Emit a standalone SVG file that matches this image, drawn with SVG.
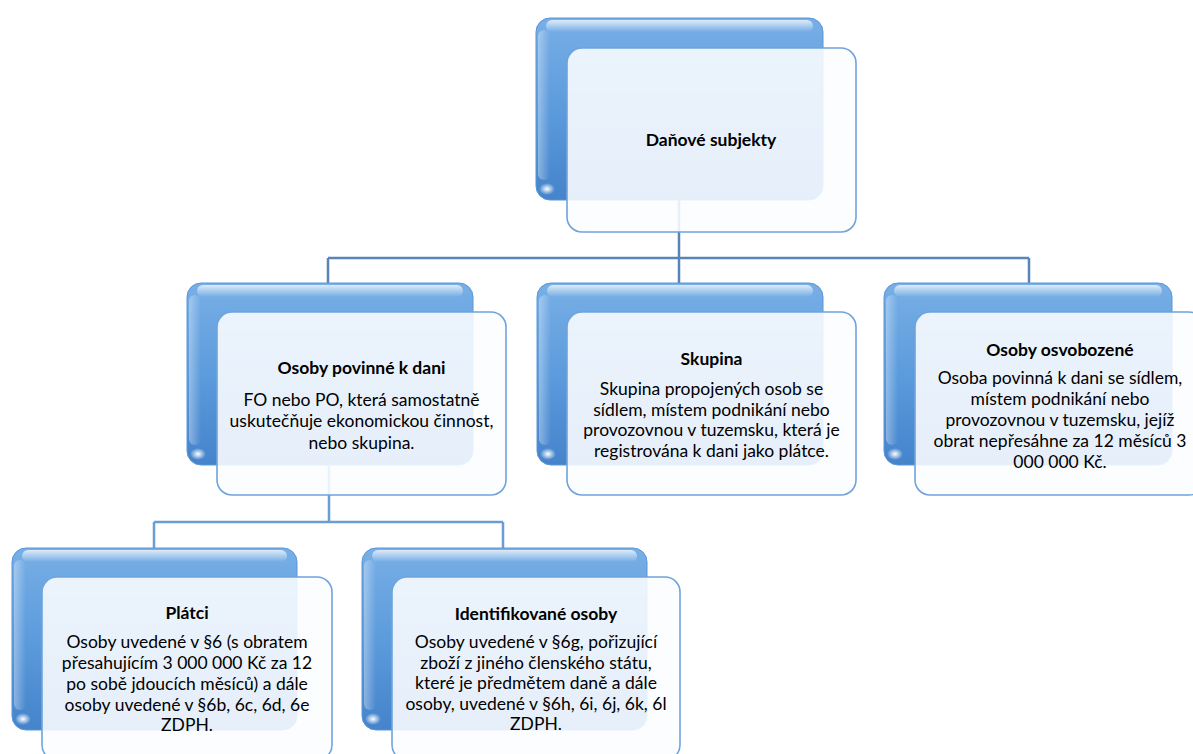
<svg xmlns="http://www.w3.org/2000/svg" width="1193" height="754" viewBox="0 0 1193 754">
<defs>
<linearGradient id="gBack" x1="0" y1="0" x2="0" y2="1">
<stop offset="0" stop-color="#78afe6"/>
<stop offset="0.5" stop-color="#5c9bdc"/>
<stop offset="1" stop-color="#4583cb"/>
</linearGradient>
<linearGradient id="gHi" x1="0" y1="0" x2="0" y2="1">
<stop offset="0" stop-color="#ffffff" stop-opacity="0.75"/>
<stop offset="1" stop-color="#ffffff" stop-opacity="0"/>
</linearGradient>
<linearGradient id="gLeft" x1="0" y1="0" x2="1" y2="0">
<stop offset="0" stop-color="#ffffff" stop-opacity="0.35"/>
<stop offset="1" stop-color="#ffffff" stop-opacity="0"/>
</linearGradient>
<radialGradient id="gSpot" cx="0.5" cy="0.5" r="0.5">
<stop offset="0" stop-color="#ffffff" stop-opacity="1"/>
<stop offset="1" stop-color="#ffffff" stop-opacity="0"/>
</radialGradient>
</defs>
<style>
.back{fill:url(#gBack);stroke:#5a96d6;stroke-width:1}
.hi{fill:url(#gHi)}
.lft{fill:url(#gLeft)}
.spot{fill:url(#gSpot)}
.front{fill:#fbfdff;fill-opacity:0.89;stroke:#6fa3dc;stroke-width:1.6}
.c1{fill:none;stroke:#5784b9;stroke-width:2.5}
.c2{fill:none;stroke:#699dd4;stroke-width:2.5}
text{font-family:Lato,"Noto Sans","Liberation Sans",sans-serif;fill:#000;text-anchor:middle}
.t{font-weight:bold;font-size:17.5px}
.b{font-size:17.5px}
</style>
<rect width="1193" height="754" fill="#ffffff"/>
<g id="connectors">
<path class="c1" d="M679,200 V283 M328,258 H1029 M328,258 V283 M1029,258 V283"/>
<path class="c2" d="M329,465 V522 M154,522 H503 M154,522 V548 M503,522 V548"/>
</g>
<g id="n1">
<rect class="back" x="536" y="18" width="287" height="182" rx="14"/>
<rect class="hi" x="546" y="20" width="267" height="12" rx="6"/>
<rect class="lft" x="538" y="30" width="12" height="150" rx="6"/>
<ellipse class="spot" cx="547" cy="189" rx="8" ry="6"/>
<rect class="front" x="567" y="48" width="289" height="184" rx="15"/>
<text class="t" x="711" y="146">Daňové subjekty</text>
</g>
<g id="n2">
<rect class="back" x="187" y="283" width="286" height="182" rx="14"/>
<rect class="hi" x="197" y="285" width="266" height="12" rx="6"/>
<rect class="lft" x="189" y="295" width="12" height="150" rx="6"/>
<ellipse class="spot" cx="198" cy="454" rx="8" ry="6"/>
<rect class="front" x="217" y="312" width="289" height="183" rx="15"/>
<text class="t" x="361.5" y="374">Osoby povinné k dani</text>
<text class="b" x="361.5" y="406">FO nebo PO, která samostatně</text>
<text class="b" x="361.5" y="427">uskutečňuje ekonomickou činnost,</text>
<text class="b" x="361.5" y="449">nebo skupina.</text>
</g>
<g id="n3">
<rect class="back" x="537" y="283" width="286" height="182" rx="14"/>
<rect class="hi" x="547" y="285" width="266" height="12" rx="6"/>
<rect class="lft" x="539" y="295" width="12" height="150" rx="6"/>
<ellipse class="spot" cx="548" cy="454" rx="8" ry="6"/>
<rect class="front" x="567" y="312" width="289" height="183" rx="15"/>
<text class="t" x="711.5" y="365">Skupina</text>
<text class="b" x="711.5" y="395">Skupina propojených osob se</text>
<text class="b" x="711.5" y="415.5">sídlem, místem podnikání nebo</text>
<text class="b" x="711.5" y="436">provozovnou v tuzemsku, která je</text>
<text class="b" x="711.5" y="456.5">registrována k dani jako plátce.</text>
</g>
<g id="n4">
<rect class="back" x="884" y="283" width="288" height="182" rx="14"/>
<rect class="hi" x="894" y="285" width="268" height="12" rx="6"/>
<rect class="lft" x="886" y="295" width="12" height="150" rx="6"/>
<ellipse class="spot" cx="895" cy="454" rx="8" ry="6"/>
<rect class="front" x="915" y="312" width="289" height="183" rx="15"/>
<text class="t" x="1060" y="356">Osoby osvobozené</text>
<text class="b" x="1060" y="384">Osoba povinná k dani se sídlem,</text>
<text class="b" x="1060" y="405">místem podnikání nebo</text>
<text class="b" x="1060" y="426">provozovnou v tuzemsku, jejíž</text>
<text class="b" x="1060" y="447">obrat nepřesáhne za 12 měsíců 3</text>
<text class="b" x="1060" y="468">000 000 Kč.</text>
</g>
<g id="n5">
<rect class="back" x="12" y="548" width="285" height="182" rx="14"/>
<rect class="hi" x="22" y="550" width="265" height="12" rx="6"/>
<rect class="lft" x="14" y="560" width="12" height="150" rx="6"/>
<ellipse class="spot" cx="23" cy="719" rx="8" ry="6"/>
<rect class="front" x="42" y="577" width="290" height="183" rx="15"/>
<text class="t" x="187" y="619">Plátci</text>
<text class="b" x="187" y="648">Osoby uvedené v §6 (s obratem</text>
<text class="b" x="187" y="669">přesahujícím 3 000 000 Kč za 12</text>
<text class="b" x="187" y="690">po sobě jdoucích měsíců) a dále</text>
<text class="b" x="187" y="711">osoby uvedené v §6b, 6c, 6d, 6e</text>
<text class="b" x="187" y="731">ZDPH.</text>
</g>
<g id="n6">
<rect class="back" x="362" y="548" width="285" height="182" rx="14"/>
<rect class="hi" x="372" y="550" width="265" height="12" rx="6"/>
<rect class="lft" x="364" y="560" width="12" height="150" rx="6"/>
<ellipse class="spot" cx="373" cy="719" rx="8" ry="6"/>
<rect class="front" x="392" y="577" width="288" height="183" rx="15"/>
<text class="t" x="536" y="620">Identifikované osoby</text>
<text class="b" x="536" y="648">Osoby uvedené v §6g, pořizující</text>
<text class="b" x="536" y="668.5">zboží z jiného členského státu,</text>
<text class="b" x="536" y="689">které je předmětem daně a dále</text>
<text class="b" x="536" y="709.5">osoby, uvedené v §6h, 6i, 6j, 6k, 6l</text>
<text class="b" x="536" y="730">ZDPH.</text>
</g>
</svg>
